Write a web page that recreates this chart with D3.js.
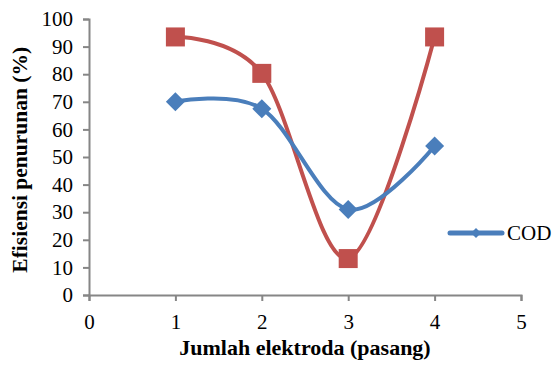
<!DOCTYPE html>
<html>
<head>
<meta charset="utf-8">
<script src="https://cdn.jsdelivr.net/npm/d3@7"></script>
<style>
  body { margin: 0; background: #fff; }
  text { font-family: "Liberation Serif", "Times New Roman", serif; }
</style>
</head>
<body>
<div id="chart"></div>
<script>
// data
var elektroda = [1, 2, 3, 4];
var cod = [70, 67.5, 31, 54];
var seri2 = [93.5, 80.3, 13.2, 93.5];
var xTicks = [0, 1, 2, 3, 4, 5];
var yTicks = [0, 10, 20, 30, 40, 50, 60, 70, 80, 90, 100];

var width = 556, height = 365;
var svg = d3.select('#chart').append('svg')
    .attr('width', width)
    .attr('height', height);

var x = d3.scaleLinear().domain([0, 5]).range([89, 521]);
var y = d3.scaleLinear().domain([0, 100]).range([295, 19]);

var axisColor = '#868686';

// y axis
var yAxis = svg.append('g')
    .attr('transform', 'translate(' + x(0) + ',0)')
    .call(d3.axisLeft(y).tickValues(yTicks).tickFormat(d3.format('d'))
        .tickSizeOuter(0).tickSize(6).tickPadding(10));
// x axis
var xAxis = svg.append('g')
    .attr('transform', 'translate(0,' + y(0) + ')')
    .call(d3.axisBottom(x).tickValues(xTicks).tickFormat(d3.format('d'))
        .tickSizeOuter(0).tickSize(6).tickPadding(13));

[yAxis, xAxis].forEach(function (g) {
    g.select('.domain').attr('stroke', axisColor).attr('stroke-width', 2);
    g.selectAll('.tick line').attr('stroke', axisColor).attr('stroke-width', 2);
    g.selectAll('.tick text')
        .attr('fill', '#000')
        .style('font-family', '"Liberation Serif", serif')
        .style('font-size', '21px');
});

var line = d3.line()
    .x(function (d, i) { return x(elektroda[i]); })
    .y(function (d) { return y(d); })
    .curve(d3.curveCardinal.tension(0));

// red series
svg.append('path')
    .datum(seri2)
    .attr('d', line)
    .attr('fill', 'none')
    .attr('stroke', '#c0504d')
    .attr('stroke-width', 4);

// blue series
svg.append('path')
    .datum(cod)
    .attr('d', line)
    .attr('fill', 'none')
    .attr('stroke', '#4a7ebb')
    .attr('stroke-width', 4);

svg.selectAll('rect.sq')
    .data(seri2)
    .enter()
    .append('rect')
    .classed('sq', true)
    .attr('x', function (d, i) { return x(elektroda[i]) - 9.5; })
    .attr('y', function (d) { return y(d) - 9.5; })
    .attr('width', 19)
    .attr('height', 19)
    .attr('fill', '#c0504d');

svg.selectAll('path.dia')
    .data(cod)
    .enter()
    .append('path')
    .classed('dia', true)
    .attr('d', 'M0,-9.5L9.5,0L0,9.5L-9.5,0Z')
    .attr('transform', function (d, i) {
        return 'translate(' + x(elektroda[i]) + ',' + y(d) + ')';
    })
    .attr('fill', '#4a7ebb');

// legend
svg.append('line')
    .attr('x1', 450).attr('x2', 502)
    .attr('y1', 233).attr('y2', 233)
    .attr('stroke', '#4a7ebb')
    .attr('stroke-width', 5)
    .attr('stroke-linecap', 'round');
svg.append('path')
    .attr('d', 'M0,-5L5,0L0,5L-5,0Z')
    .attr('transform', 'translate(476,233)')
    .attr('fill', '#4a7ebb');
svg.append('text')
    .attr('x', 507).attr('y', 240)
    .style('font-size', '21px')
    .text('COD');

// axis titles
svg.append('text')
    .attr('x', x(2.5)).attr('y', 355)
    .attr('text-anchor', 'middle')
    .style('font-size', '22px')
    .style('font-weight', 'bold')
    .text('Jumlah elektroda (pasang)');

svg.append('text')
    .attr('transform', 'translate(27,' + y(49) + ') rotate(-90)')
    .attr('text-anchor', 'middle')
    .style('font-size', '21.5px')
    .style('font-weight', 'bold')
    .text('Efisiensi penurunan (%)');
</script>
</body>
</html>
